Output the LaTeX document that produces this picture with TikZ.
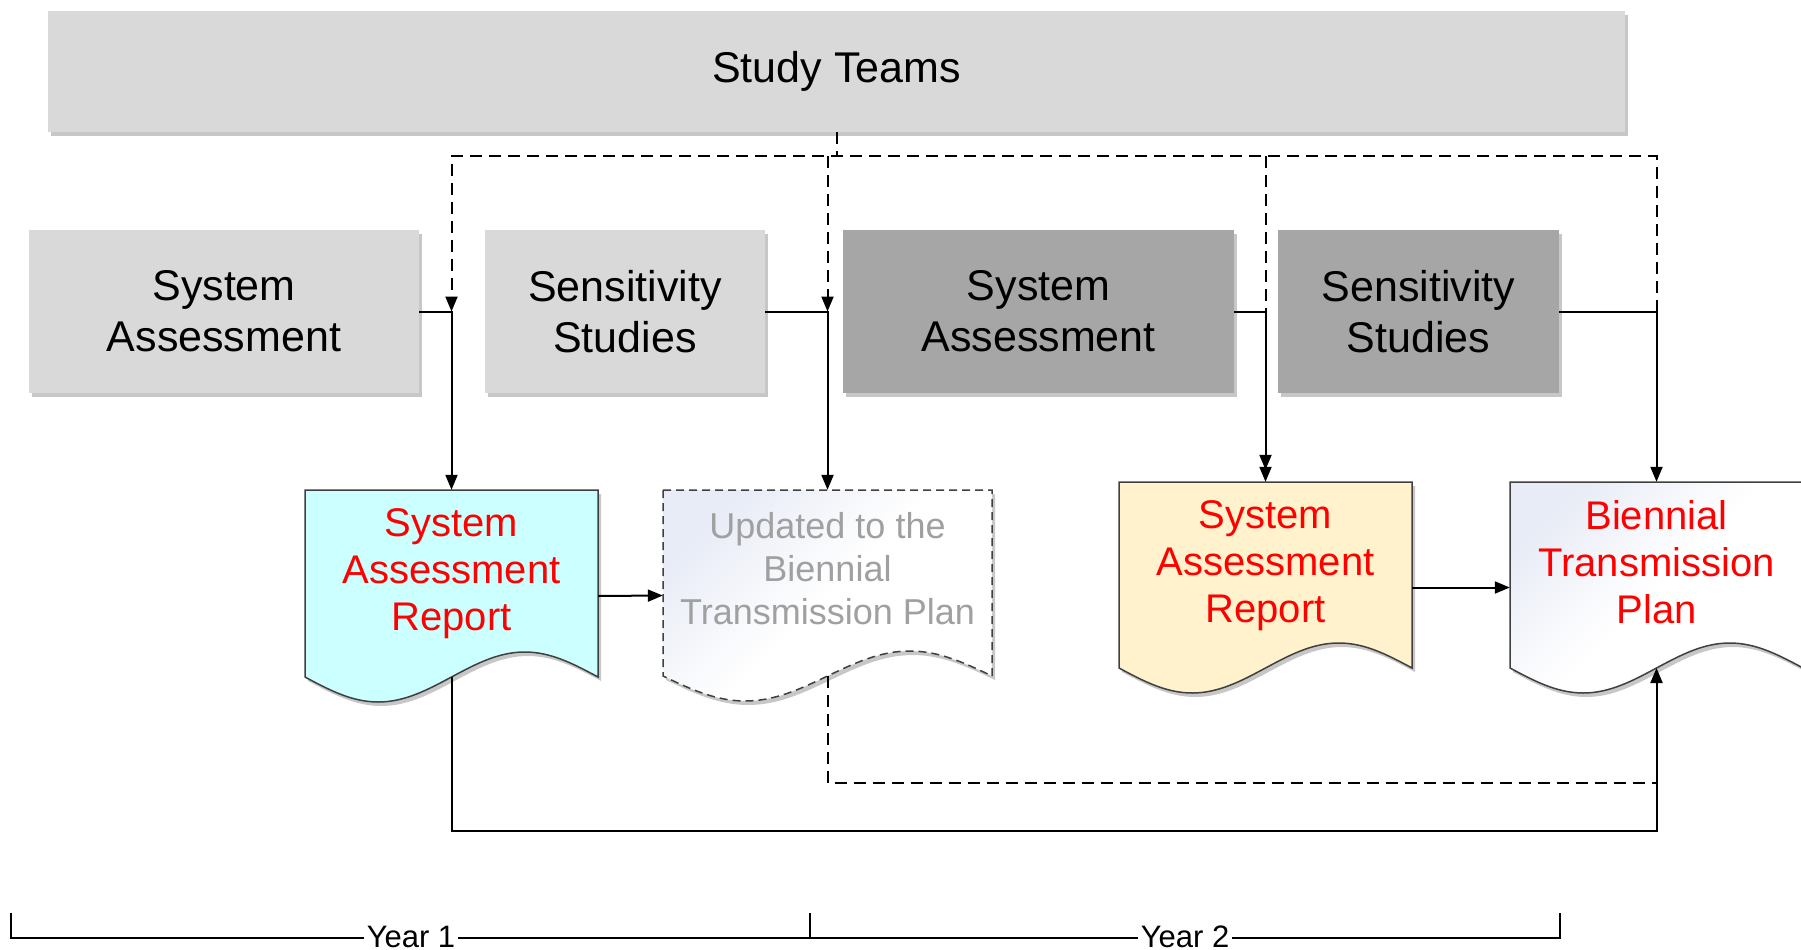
\documentclass[tikz,border=0pt]{standalone}
\usepackage{fontspec}
\setmainfont{Liberation Sans}
\usetikzlibrary{arrows.meta,shadows,calc}
\definecolor{lgrey}{HTML}{D9D9D9}
\definecolor{dgrey}{HTML}{A6A6A6}
\definecolor{cyanfill}{HTML}{CCFFFF}
\definecolor{yellowfill}{HTML}{FFF2CC}
\definecolor{gradblue}{HTML}{E8ECF6}
\definecolor{greytext}{HTML}{A0A0A0}
\definecolor{docline}{HTML}{404040}
\newcommand\docshape[6]{%
  \pgfmathsetmacro\docW{#3-#2}%
  \pgfmathsetmacro\docA{#2+0.25*\docW}%
  \pgfmathsetmacro\docB{#2+0.5*\docW}%
  \pgfmathsetmacro\docC{#2+0.75*\docW}%
  \pgfmathsetmacro\docT{#5+25}%
  \pgfmathsetmacro\docP{#5-25}%
  \pgfmathsetmacro\docM{(#4+\docT)/2}%
  \pgfmathsetmacro\docH{\docT-#4}%
  \path[#6] (#2,#4) -- (#3,#4) -- (#3,#5) sin (\docC,\docP) cos (\docB,#5) sin (\docA,\docT) cos (#2,#5) -- cycle;
  \node[inner sep=0pt, minimum width=\docW pt, minimum height=\docH pt] (#1) at (\docB,\docM) {};
  \coordinate (#1w) at (\docB,#5);
}
\begin{document}
\begin{tikzpicture}[x=1pt,y=-1pt,
  shad/.style={drop shadow={shadow xshift=3pt,shadow yshift=-4pt,fill=black!40,opacity=0.55}},
  box/.style={shad, inner sep=0pt, align=center, minimum height=163pt, font=\fontsize{43}{51}\selectfont},
  docout/.style={shad, draw=docline, line width=1.5pt},
  doctxt/.style={align=center, text=red, font=\fontsize{40}{47}\selectfont},
  conn/.style={line width=2pt},
  dsh/.style={line width=2pt, dash pattern=on 12pt off 7pt},
  arr/.style={-{Triangle[length=15pt,width=12pt]}},
  yr/.style={fill=white, inner sep=3pt, font=\fontsize{31}{31}\selectfont, anchor=base},
  gradfill/.style={top color=gradblue, bottom color=white, middle color=white, shading angle=45}
]
\useasboundingbox (0,0) rectangle (1801,950);
\clip (0,0) rectangle (1801,950);

% top boxes
\node[box, fill=lgrey, minimum width=1577pt, minimum height=121pt] (st) at (836.5,71.5) {Study Teams};
\node[box, fill=lgrey, minimum width=390pt] (sa1) at (224,311.5) {System\\Assessment};
\node[box, fill=lgrey, minimum width=280pt] (ss1) at (625,311.5) {Sensitivity\\Studies};
\node[box, fill=dgrey, minimum width=391pt] (sa2) at (1038.5,311.5) {System\\Assessment};
\node[box, fill=dgrey, minimum width=281pt] (ss2) at (1418.5,311.5) {Sensitivity\\Studies};

% documents
\docshape{d1}{305}{598}{490}{677}{docout, fill=cyanfill}
\docshape{d2}{663}{992}{490}{676}{docout, dash pattern=on 8pt off 5pt, gradfill}
\docshape{d3}{1119}{1412}{482}{668}{docout, fill=yellowfill}
\docshape{d4}{1510}{1803}{482}{668}{docout, gradfill}

\node[doctxt] (d1t) at (451.5,574) {System\\Assessment\\Report};
\node[doctxt, text=greytext, font=\fontsize{36}{43}\selectfont] (d2t) at (827.5,569) {Updated to the\\Biennial\\Transmission Plan};
\node[doctxt] (d3t) at (1265.5,566) {System\\Assessment\\Report};
\node[doctxt] (d4t) at (1656.5,562) {Biennial\\Transmission\\Plan};

% bus coordinates
\coordinate (bus) at (0,156);
\coordinate (midbus) at (0,783);
\coordinate (lowbus) at (0,831);

% dashed connectors from study teams
\draw[dsh] (st.south) -- (st.south |- bus);
\draw[dsh, arr] (d4.north |- ss2.east) -- (d4.north |- bus) -- (d1.north |- bus) -- (d1.north |- sa1.east);
\draw[dsh, arr] (d2.north |- bus) -- (d2.north |- ss1.east);
\draw[dsh] (d3.north |- bus) -- (d3.north |- sa2.east);

% solid connectors
\draw[conn, arr] (sa1.east) -| (d1.north);
\draw[conn, arr] (ss1.east) -| (d2.north);
\draw[conn, arr] (sa2.east) -| ([yshift=12pt]d3.north);
\draw[conn, arr] (sa2.east) -| (d3.north);
\draw[conn, arr] (ss2.east) -| (d4.north);
\draw[conn, arr] (d1.east) -- (d2.west);
\draw[conn, arr] (d3.east) -- (d4.west);
\draw[dsh] (d2w) |- (d4w |- midbus);
\draw[conn, arr] (d1w) |- (d4w |- lowbus) -- (d4w);

% timeline
\draw[line width=2pt] (11,913) -- (11,938) -- (1560,938) -- (1560,913);
\draw[line width=2pt] (810,913) -- (810,938);
\node[yr] (y1) at (411,947) {Year 1};
\node[yr] (y2) at (1185,947) {Year 2};
\end{tikzpicture}
\end{document}
